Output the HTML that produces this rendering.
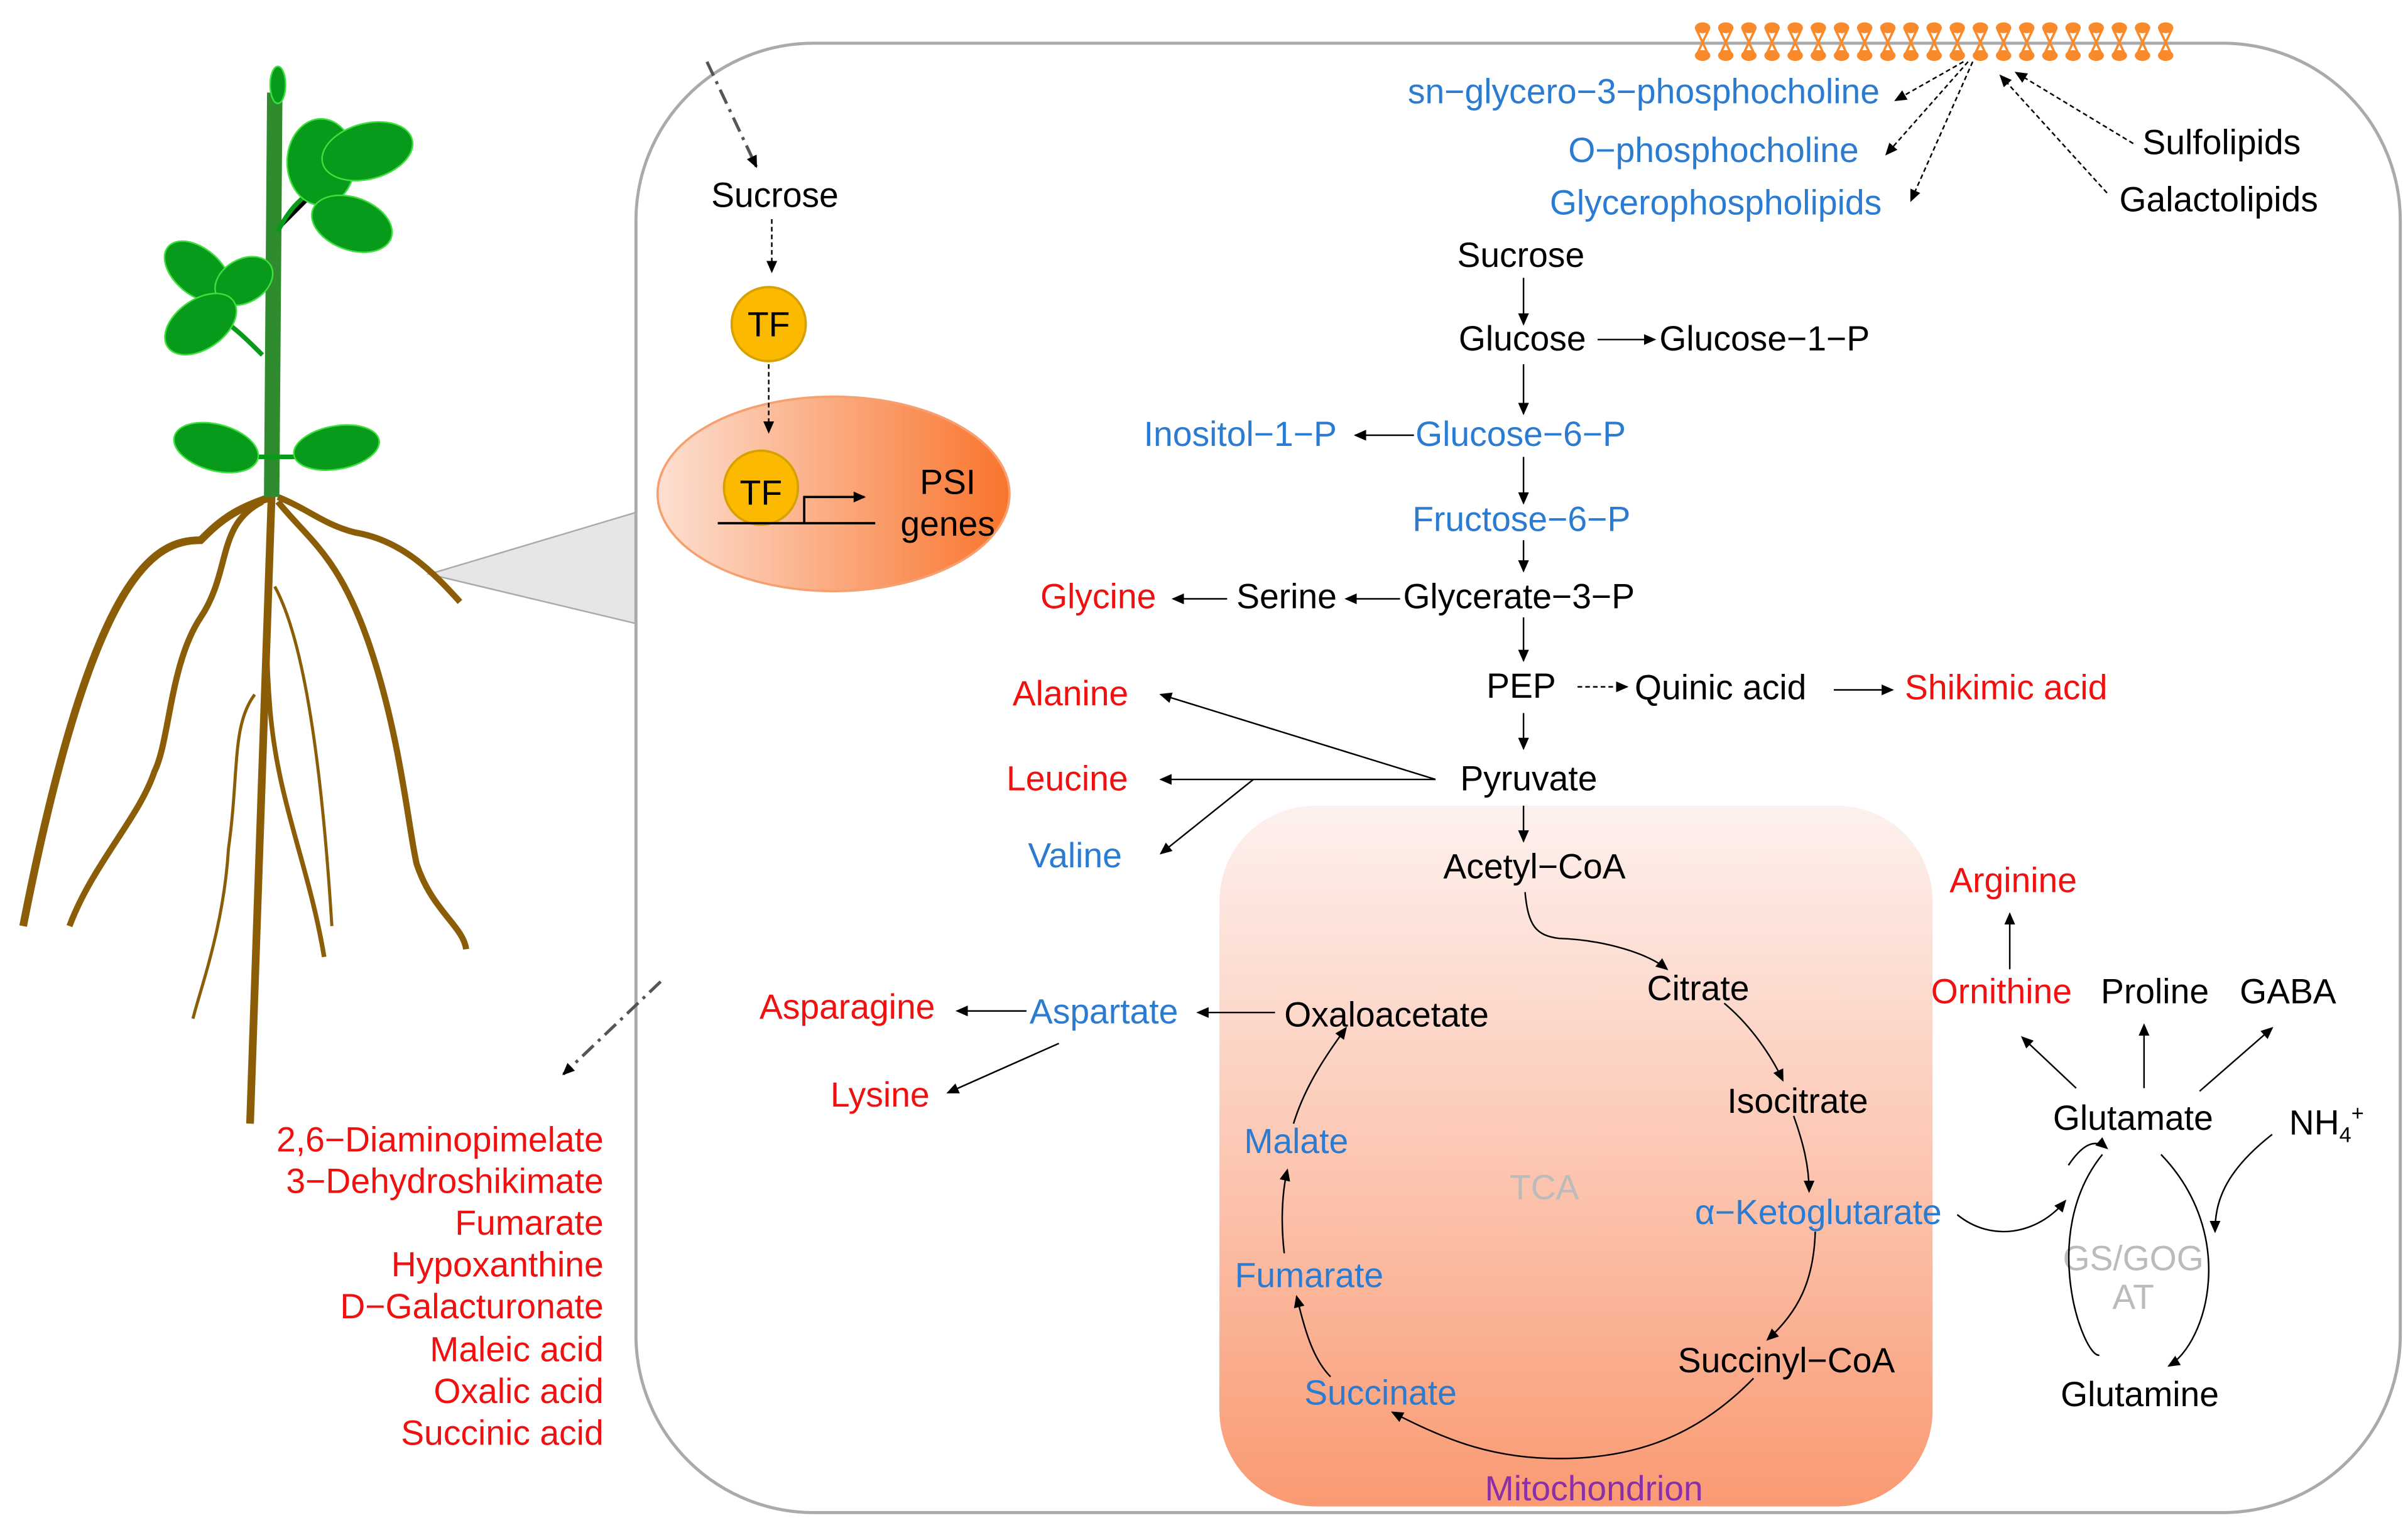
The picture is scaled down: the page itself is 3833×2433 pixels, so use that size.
<!DOCTYPE html>
<html><head><meta charset="utf-8"><style>
html,body{margin:0;padding:0;background:#fff}
svg{display:block}
text{font-family:"Liberation Sans",Arial,sans-serif;font-size:22.5px}
.b{fill:#2b7bd1}.r{fill:#f01010}.k{fill:#000}
</style></head><body>
<svg width="3833" height="2433" viewBox="0 0 1560 990" preserveAspectRatio="none" xmlns="http://www.w3.org/2000/svg">
<defs>
<marker id="a" markerWidth="8" markerHeight="8" refX="7" refY="4" orient="auto" markerUnits="userSpaceOnUse"><path d="M0,0.5 L8,4 L0,7.5 z" fill="#000"/></marker>
<linearGradient id="mg" x1="0" y1="0" x2="0" y2="1"><stop offset="0" stop-color="#fdf1ee"/><stop offset="0.5" stop-color="#fcc7b3"/><stop offset="1" stop-color="#f99a72"/></linearGradient>
<linearGradient id="eg" x1="0" y1="0" x2="1" y2="0"><stop offset="0" stop-color="#fde0d2"/><stop offset="1" stop-color="#f9742c"/></linearGradient>
</defs>
<polygon points="278,372 412,332 412,404" fill="#e6e6e6" stroke="#aaa" stroke-width="1"/>
<rect x="412" y="28" width="1143" height="952" rx="115" fill="#fff" stroke="#aaa" stroke-width="2"/>
<rect x="790" y="522" width="462" height="454" rx="62" fill="url(#mg)"/>
<!-- membrane -->
<g stroke="#f98a2c" stroke-width="1.5" fill="#f98a2c">
<path d="M1099,19 L1107,36 M1107,19 L1099,36 M1114,19 L1122,36 M1122,19 L1114,36 M1129,19 L1137,36 M1137,19 L1129,36 M1144,19 L1152,36 M1152,19 L1144,36 M1159,19 L1167,36 M1167,19 L1159,36 M1174,19 L1182,36 M1182,19 L1174,36 M1189,19 L1197,36 M1197,19 L1189,36 M1204,19 L1212,36 M1212,19 L1204,36 M1219,19 L1227,36 M1227,19 L1219,36 M1234,19 L1242,36 M1242,19 L1234,36 M1249,19 L1257,36 M1257,19 L1249,36 M1264,19 L1272,36 M1272,19 L1264,36 M1279,19 L1287,36 M1287,19 L1279,36 M1294,19 L1302,36 M1302,19 L1294,36 M1309,19 L1317,36 M1317,19 L1309,36 M1324,19 L1332,36 M1332,19 L1324,36 M1339,19 L1347,36 M1347,19 L1339,36 M1354,19 L1362,36 M1362,19 L1354,36 M1369,19 L1377,36 M1377,19 L1369,36 M1384,19 L1392,36 M1392,19 L1384,36 M1399,19 L1407,36 M1407,19 L1399,36" fill="none"/>
<g stroke="none">
<ellipse cx="1103" cy="18" rx="5" ry="3.5"/><ellipse cx="1118" cy="18" rx="5" ry="3.5"/><ellipse cx="1133" cy="18" rx="5" ry="3.5"/><ellipse cx="1148" cy="18" rx="5" ry="3.5"/><ellipse cx="1163" cy="18" rx="5" ry="3.5"/><ellipse cx="1178" cy="18" rx="5" ry="3.5"/><ellipse cx="1193" cy="18" rx="5" ry="3.5"/><ellipse cx="1208" cy="18" rx="5" ry="3.5"/><ellipse cx="1223" cy="18" rx="5" ry="3.5"/><ellipse cx="1238" cy="18" rx="5" ry="3.5"/><ellipse cx="1253" cy="18" rx="5" ry="3.5"/><ellipse cx="1268" cy="18" rx="5" ry="3.5"/><ellipse cx="1283" cy="18" rx="5" ry="3.5"/><ellipse cx="1298" cy="18" rx="5" ry="3.5"/><ellipse cx="1313" cy="18" rx="5" ry="3.5"/><ellipse cx="1328" cy="18" rx="5" ry="3.5"/><ellipse cx="1343" cy="18" rx="5" ry="3.5"/><ellipse cx="1358" cy="18" rx="5" ry="3.5"/><ellipse cx="1373" cy="18" rx="5" ry="3.5"/><ellipse cx="1388" cy="18" rx="5" ry="3.5"/><ellipse cx="1403" cy="18" rx="5" ry="3.5"/>
<ellipse cx="1103" cy="36" rx="5" ry="3.5"/><ellipse cx="1118" cy="36" rx="5" ry="3.5"/><ellipse cx="1133" cy="36" rx="5" ry="3.5"/><ellipse cx="1148" cy="36" rx="5" ry="3.5"/><ellipse cx="1163" cy="36" rx="5" ry="3.5"/><ellipse cx="1178" cy="36" rx="5" ry="3.5"/><ellipse cx="1193" cy="36" rx="5" ry="3.5"/><ellipse cx="1208" cy="36" rx="5" ry="3.5"/><ellipse cx="1223" cy="36" rx="5" ry="3.5"/><ellipse cx="1238" cy="36" rx="5" ry="3.5"/><ellipse cx="1253" cy="36" rx="5" ry="3.5"/><ellipse cx="1268" cy="36" rx="5" ry="3.5"/><ellipse cx="1283" cy="36" rx="5" ry="3.5"/><ellipse cx="1298" cy="36" rx="5" ry="3.5"/><ellipse cx="1313" cy="36" rx="5" ry="3.5"/><ellipse cx="1328" cy="36" rx="5" ry="3.5"/><ellipse cx="1343" cy="36" rx="5" ry="3.5"/><ellipse cx="1358" cy="36" rx="5" ry="3.5"/><ellipse cx="1373" cy="36" rx="5" ry="3.5"/><ellipse cx="1388" cy="36" rx="5" ry="3.5"/><ellipse cx="1403" cy="36" rx="5" ry="3.5"/>
</g>
</g>
<!-- plant -->
<g>
<path d="M176,320 C174,400 170,500 162,728" stroke="#8a5d06" stroke-width="5" fill="none"/>
<path d="M176,322 C150,330 140,340 130,350 C100,350 60,370 15,600" stroke="#8a5d06" stroke-width="5" fill="none"/>
<path d="M170,325 C140,340 150,370 130,400 C110,430 110,480 100,500 C90,530 60,560 45,600" stroke="#8a5d06" stroke-width="4" fill="none"/>
<path d="M180,322 C200,330 210,340 230,345 C260,350 280,370 298,390" stroke="#8a5d06" stroke-width="4" fill="none"/>
<path d="M180,325 C200,350 220,360 240,420 C260,480 265,540 270,560 C280,590 300,600 302,615" stroke="#8a5d06" stroke-width="4" fill="none"/>
<path d="M175,330 C175,360 170,400 175,460 C180,520 200,560 210,620" stroke="#8a5d06" stroke-width="3" fill="none"/>
<path d="M178,380 C200,420 210,520 215,600" stroke="#8a5d06" stroke-width="2" fill="none"/>
<path d="M165,450 C150,470 155,500 148,550 C145,600 130,640 125,660" stroke="#8a5d06" stroke-width="2" fill="none"/>
<path d="M178,60 L176,322" stroke="#2e8b2e" stroke-width="10"/>
<path d="M180,150 C190,130 200,125 210,120 M170,230 C160,220 150,210 140,205 M176,296 L150,296 M176,296 L205,296" stroke="#089a1a" stroke-width="3"/>
<g fill="#089a1a" stroke="#3de03d" stroke-width="1">
<ellipse cx="208" cy="105" rx="22" ry="28"/>
<ellipse cx="238" cy="98" rx="30" ry="18" transform="rotate(-15 238 98)"/>
<ellipse cx="228" cy="145" rx="27" ry="17" transform="rotate(20 228 145)"/>
<ellipse cx="128" cy="176" rx="25" ry="15" transform="rotate(40 128 176)"/>
<ellipse cx="158" cy="182" rx="20" ry="14" transform="rotate(-30 158 182)"/>
<ellipse cx="130" cy="210" rx="26" ry="16" transform="rotate(-35 130 210)"/>
<ellipse cx="140" cy="290" rx="28" ry="15" transform="rotate(15 140 290)"/>
<ellipse cx="218" cy="290" rx="28" ry="14" transform="rotate(-10 218 290)"/>
<ellipse cx="180" cy="55" rx="5" ry="12"/>
</g>
</g>
<path d="M458,40 L490,108" stroke="#555" stroke-width="2" stroke-dasharray="10,4,2,4" marker-end="url(#a)" fill="none"/>
<path d="M428,636 L365,696" stroke="#555" stroke-width="2" stroke-dasharray="10,4,2,4" marker-end="url(#a)" fill="none"/>
<ellipse cx="540" cy="320" rx="114" ry="63" fill="url(#eg)" stroke="#f6a070" stroke-width="1.5"/>
<circle cx="498" cy="210" r="24" fill="#fbba00" stroke="#d8a000" stroke-width="1.5"/>
<text x="498" y="218" text-anchor="middle">TF</text>
<circle cx="493" cy="316" r="24" fill="#fbba00" stroke="#d8a000" stroke-width="1.5"/>
<text x="493" y="327" text-anchor="middle">TF</text>
<path d="M465,339 L567,339" stroke="#000" stroke-width="1.5"/>
<path d="M521,339 L521,322 L560,322" stroke="#000" stroke-width="1.5" fill="none" marker-end="url(#a)"/>
<text x="614" y="320" text-anchor="middle">PSI</text>
<text x="614" y="347" text-anchor="middle">genes</text>
<text x="502" y="134" text-anchor="middle">Sucrose</text>
<g stroke="#000" stroke-width="1" fill="none" marker-end="url(#a)">
<path d="M500,142 L500,176" stroke-dasharray="3,2"/>
<path d="M498,236 L498,280" stroke-dasharray="3,2"/>
</g>
<g class="r" text-anchor="end">
<text x="391" y="746">2,6−Diaminopimelate</text>
<text x="391" y="773">3−Dehydroshikimate</text>
<text x="391" y="800">Fumarate</text>
<text x="391" y="827">Hypoxanthine</text>
<text x="391" y="854">D−Galacturonate</text>
<text x="391" y="882">Maleic acid</text>
<text x="391" y="909">Oxalic acid</text>
<text x="391" y="936">Succinic acid</text>
</g>
<g class="b">
<text x="912" y="67">sn−glycero−3−phosphocholine</text>
<text x="1016" y="105">O−phosphocholine</text>
<text x="1004" y="139">Glycerophospholipids</text>
</g>
<text x="1388" y="100">Sulfolipids</text>
<text x="1373" y="137">Galactolipids</text>
<g stroke="#000" stroke-width="1" fill="none" stroke-dasharray="3,2" marker-end="url(#a)">
<path d="M1272,40 L1228,65"/>
<path d="M1275,40 L1222,100"/>
<path d="M1278,40 L1238,130"/>
<path d="M1382,93 L1306,47"/>
<path d="M1365,125 L1296,49"/>
</g>
<text x="944" y="173">Sucrose</text>
<text x="945" y="227">Glucose</text>
<text x="1075" y="227">Glucose−1−P</text>
<text x="917" y="289" class="b">Glucose−6−P</text>
<text x="741" y="289" class="b">Inositol−1−P</text>
<text x="915" y="344" class="b">Fructose−6−P</text>
<text x="909" y="394">Glycerate−3−P</text>
<text x="801" y="394">Serine</text>
<text x="674" y="394" class="r">Glycine</text>
<text x="963" y="452">PEP</text>
<text x="1059" y="453">Quinic acid</text>
<text x="1234" y="453" class="r">Shikimic acid</text>
<text x="946" y="512">Pyruvate</text>
<text x="656" y="457" class="r">Alanine</text>
<text x="652" y="512" class="r">Leucine</text>
<text x="666" y="562" class="b">Valine</text>
<text x="935" y="569">Acetyl−CoA</text>
<text x="1067" y="648">Citrate</text>
<text x="1119" y="721">Isocitrate</text>
<text x="1098" y="793" class="b">α−Ketoglutarate</text>
<text x="1087" y="889">Succinyl−CoA</text>
<text x="845" y="910" class="b">Succinate</text>
<text x="800" y="834" class="b">Fumarate</text>
<text x="806" y="747" class="b">Malate</text>
<text x="832" y="665">Oxaloacetate</text>
<text x="667" y="663" class="b">Aspartate</text>
<text x="492" y="660" class="r">Asparagine</text>
<text x="538" y="717" class="r">Lysine</text>
<text x="978" y="777" fill="#bbb">TCA</text>
<text x="962" y="972" fill="#8a2fa8">Mitochondrion</text>
<text x="1263" y="578" class="r">Arginine</text>
<text x="1251" y="650" class="r">Ornithine</text>
<text x="1361" y="650">Proline</text>
<text x="1451" y="650">GABA</text>
<text x="1330" y="732">Glutamate</text>
<text x="1483" y="735">NH<tspan font-size="14" dy="5">4</tspan><tspan font-size="14" dy="-14">+</tspan></text>
<text x="1382" y="823" text-anchor="middle" fill="#bbb" font-size="19">GS/GOG</text>
<text x="1382" y="848" text-anchor="middle" fill="#bbb" font-size="19">AT</text>
<text x="1335" y="911">Glutamine</text>
<g stroke="#000" stroke-width="1" fill="none" marker-end="url(#a)">
<path d="M987,180 L987,210"/>
<path d="M1035,220 L1072,220"/>
<path d="M987,236 L987,268"/>
<path d="M916,282 L878,282"/>
<path d="M987,296 L987,326"/>
<path d="M987,350 L987,370"/>
<path d="M907,388 L872,388"/>
<path d="M795,388 L760,388"/>
<path d="M987,400 L987,428"/>
<path d="M1022,445 L1054,445" stroke-dasharray="3,2"/>
<path d="M1188,447 L1226,447"/>
<path d="M987,462 L987,485"/>
<path d="M930,505 L752,450"/>
<path d="M930,505 L752,505"/>
<path d="M812,505 L752,553"/>
<path d="M987,522 L987,545"/>
<path d="M826,656 L776,656"/>
<path d="M665,655 L620,655"/>
<path d="M686,676 L614,708"/>
<path d="M1302,628 L1302,592"/>
<path d="M1345,705 L1310,672"/>
<path d="M1389,705 L1389,664"/>
<path d="M1425,707 L1472,666"/>
<path d="M988,578 C990,600 995,606 1010,608 C1040,609 1068,618 1080,628"/>
<path d="M1117,650 C1135,665 1148,685 1155,700"/>
<path d="M1162,723 C1168,740 1172,755 1172,772"/>
<path d="M1176,798 C1175,830 1165,850 1145,868"/>
<path d="M1136,893 C1100,930 1060,945 1010,945 C970,945 940,935 902,915"/>
<path d="M862,892 C850,880 845,860 840,840"/>
<path d="M832,812 C830,795 830,775 834,758"/>
<path d="M838,728 C845,705 858,685 872,666"/>
<path d="M1268,787 C1290,805 1320,800 1338,778"/>
<path d="M1340,755 C1350,740 1358,738 1365,744"/>
<path d="M1362,748 C1320,800 1350,880 1360,878" marker-end="none"/>
<path d="M1400,748 C1450,800 1430,870 1405,885"/>
<path d="M1472,735 C1440,760 1435,780 1435,798"/>
</g>
</svg>
</body></html>
